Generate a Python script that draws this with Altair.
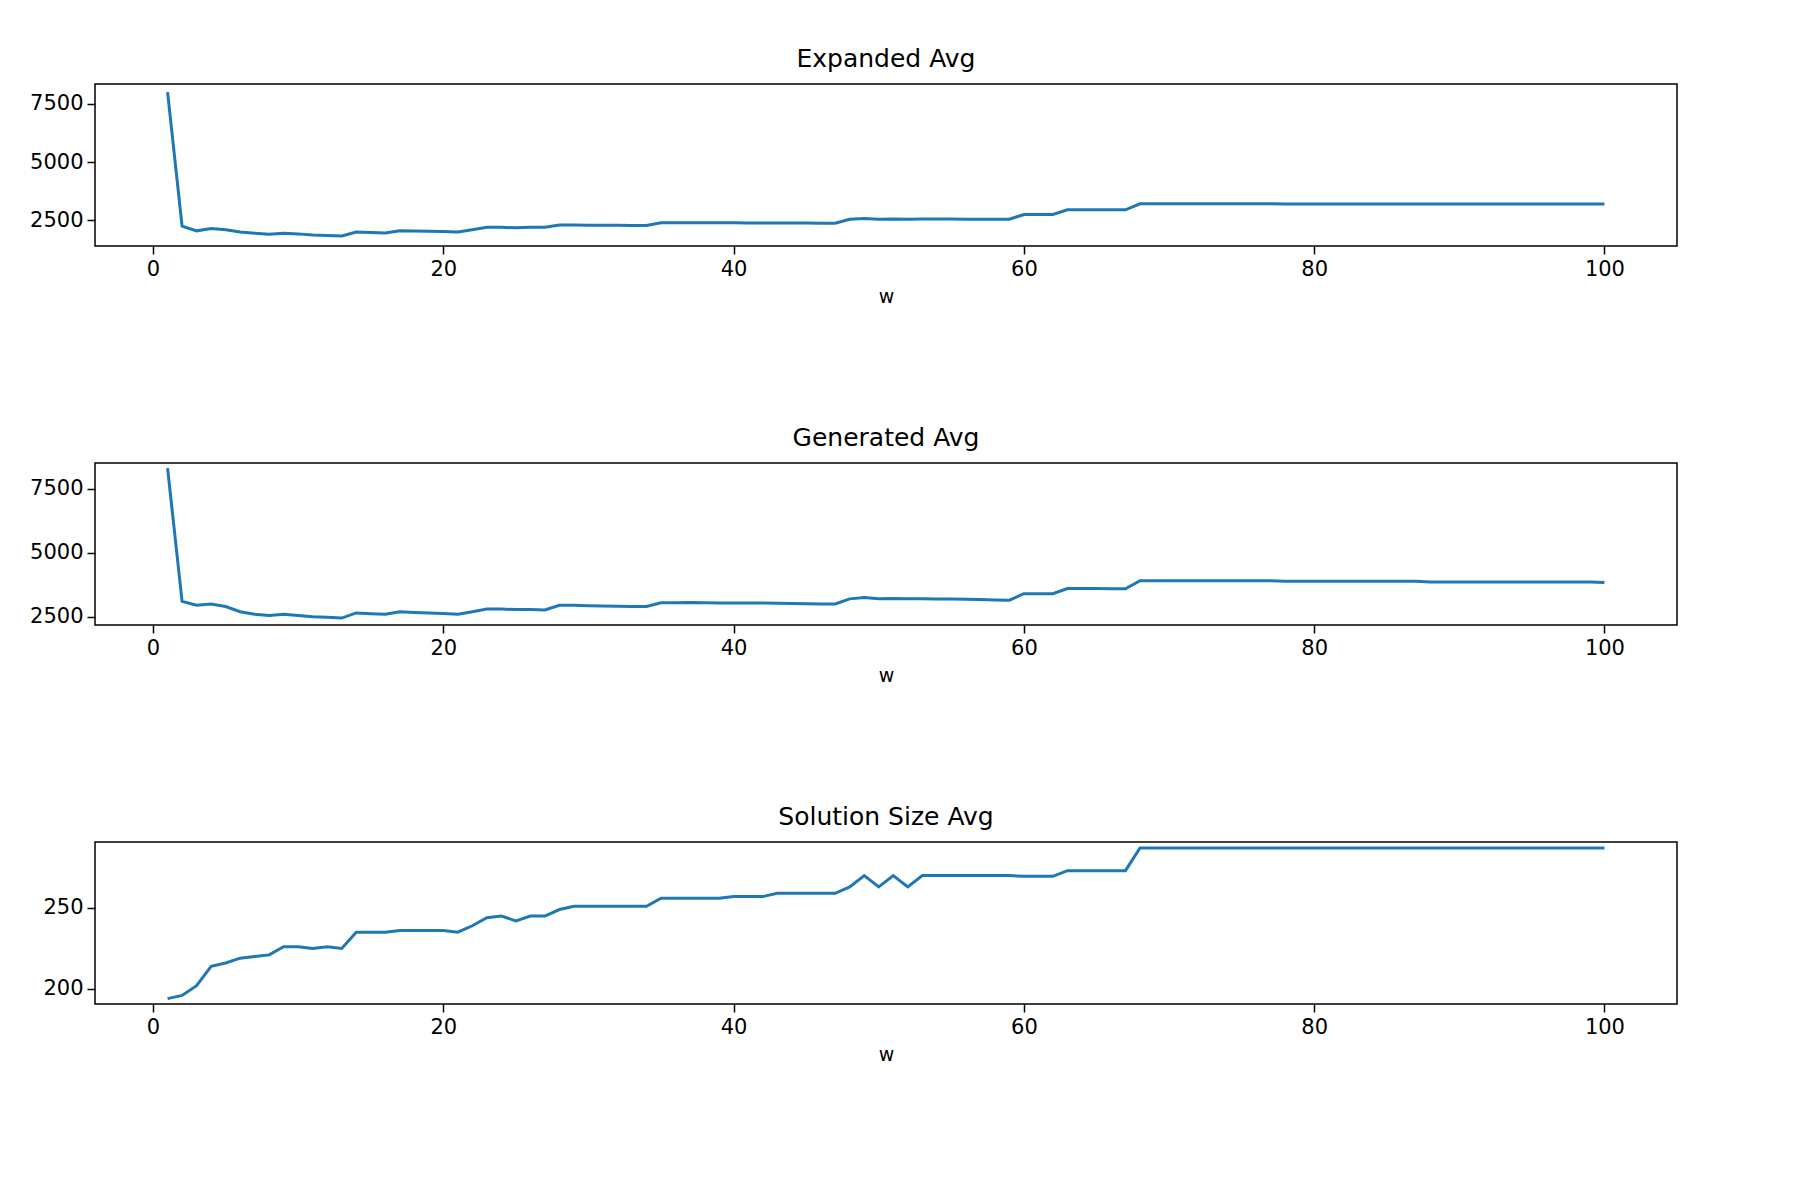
import altair as alt
import pandas as pd

w = list(range(1, 101))
expanded = ([8000, 2250, 2050, 2150, 2100, 2000, 1950, 1900, 1950, 1920, 1870, 1850, 1830, 2000, 1980, 1960, 2050, 2040, 2030, 2020, 2000, 2100, 2200, 2200, 2180, 2200, 2200]
            + [2300, 2300, 2295, 2290, 2285, 2280, 2280]
            + [2400, 2400, 2400, 2395, 2395, 2395, 2390, 2390, 2390, 2385, 2385, 2380, 2380]
            + [2550, 2580, 2550, 2560, 2550, 2555, 2555, 2555, 2550, 2550, 2550, 2550]
            + [2750, 2750, 2750]
            + [2950, 2950, 2950, 2950, 2950]
            + [3210]*10 + [3205]*10 + [3200]*13)
generated = ([8300, 3100, 2950, 3000, 2900, 2700, 2600, 2550, 2600, 2550, 2500, 2480, 2450, 2650, 2620, 2600, 2700, 2670, 2650, 2630, 2600, 2700, 2800, 2800, 2780, 2780, 2770]
             + [2950, 2950, 2930, 2920, 2910, 2900, 2900]
             + [3050, 3050, 3060, 3050, 3040, 3040, 3040, 3040, 3030, 3020, 3010, 3000, 3000]
             + [3200, 3250, 3200, 3210, 3200, 3200, 3190, 3190, 3180, 3170, 3160, 3150]
             + [3400, 3400, 3400]
             + [3600, 3600, 3600, 3590, 3590]
             + [3910]*10 + [3890]*10 + [3860]*12 + [3840])
solution = ([194, 196, 202, 214, 216, 219, 220, 221, 226, 226, 225, 226, 225, 235, 235, 235, 236, 236, 236, 236, 235, 239, 244, 245, 242, 245, 245, 249, 251]
            + [251]*5 + [256]*5 + [257, 257, 257] + [259]*5
            + [263, 270, 263, 270, 263] + [270]*7 + [269.5]*3 + [273]*5 + [287]*33)

df = pd.DataFrame({"w": w, "exp": expanded, "gen": generated, "sol": solution})

def panel(col, title, dom, ticks):
    return alt.Chart(df).mark_line(color="#1f77b4", strokeWidth=3, clip=True).encode(
        x=alt.X("w:Q", title="w", scale=alt.Scale(domain=[-4, 105], nice=False, zero=False),
                axis=alt.Axis(values=[0, 20, 40, 60, 80, 100], format="d")),
        y=alt.Y(f"{col}:Q", title=None, scale=alt.Scale(domain=dom, nice=False, zero=False),
                axis=alt.Axis(values=ticks, format="d")),
    ).properties(width=1582, height=162, title=title)

chart = alt.vconcat(
    panel("exp", "Expanded Avg", [1400, 8350], [2500, 5000, 7500]),
    panel("gen", "Generated Avg", [2180, 8500], [2500, 5000, 7500]),
    panel("sol", "Solution Size Avg", [190.7, 290.7], [200, 250]),
    spacing=118,
).properties(
    background="white", padding={"left": 20, "top": 38, "right": 20, "bottom": 10}
).configure_view(stroke="black", strokeWidth=1.5).configure_axis(
    grid=False, domain=False, tickColor="black", tickSize=8, tickWidth=1.5,
    labelFont="DejaVu Sans", labelFontSize=21, labelColor="black", labelPadding=4,
    titleFont="DejaVu Sans", titleFontSize=19, titleFontWeight="normal", titleColor="black",
    labelFlush=False, titlePadding=8,
).configure_title(font="DejaVu Sans", fontSize=25, fontWeight="normal", color="black", offset=12)

chart.save("out.html", embed_options={"renderer": "svg", "actions": False})
